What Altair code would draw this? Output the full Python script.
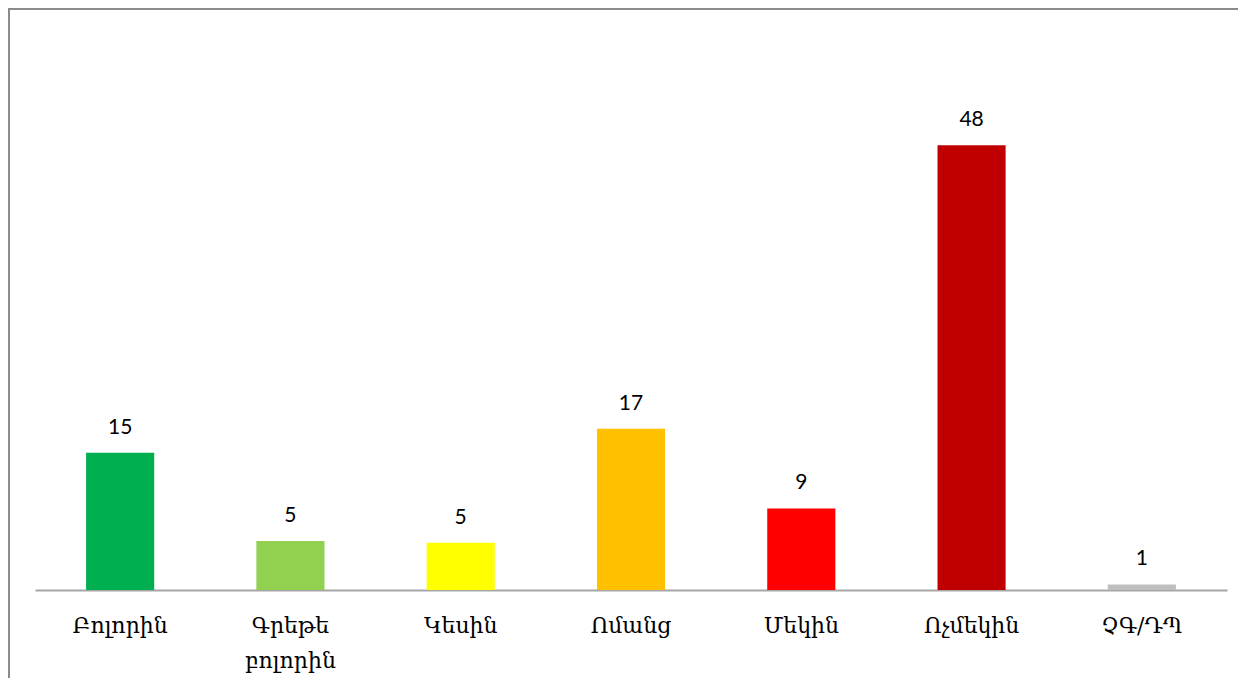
import altair as alt
import pandas as pd

categories = ["Բոլորին", "Գրեթե բոլորին", "Կեսին", "Ոմանց", "Մեկին", "Ոչմեկին", "ՉԳ/ԴՊ"]
values = [14.8, 5.3, 5.1, 17.4, 8.8, 48.0, 0.6]
colors = ["#00B050", "#92D050", "#FFFF00", "#FFC000", "#FF0000", "#C00000", "#BFBFBF"]

df = pd.DataFrame({"cat": categories, "val": values})

PAD_L, PAD_T, PAD_R, PAD_B = 27, 26, 11, 88
W, H = 1192, 556

x_enc = alt.X("cat:N", sort=categories,
              scale=alt.Scale(paddingInner=0.6, paddingOuter=0.3),
              axis=alt.Axis(title=None, labelAngle=0, ticks=False, domainColor="#A6A6A6",
                            domainWidth=2, labelFont="DejaVu Serif", labelFontSize=22,
                            labelColor="#000000", labelPadding=25, labelLineHeight=35,
                            labelExpr="split(datum.value, ' ')"))
y_enc = alt.Y("val:Q", scale=alt.Scale(domain=[0, 60]), axis=None)

bars = alt.Chart(df).mark_bar().encode(
    x=x_enc, y=y_enc,
    color=alt.Color("cat:N", scale=alt.Scale(domain=categories, range=colors), legend=None),
)
text = alt.Chart(df).mark_text(baseline="bottom", dy=-15, font="Lato", fontSize=21, color="#000000").encode(
    x=alt.X("cat:N", sort=categories), y=y_enc, text=alt.Text("val:Q", format=".0f")
)

one = pd.DataFrame({"a": [0]})
top_line = alt.Chart(one).mark_rule(color="#8C8C8C", strokeWidth=2).encode(
    x=alt.value(-PAD_L), x2=alt.value(W + PAD_R), y=alt.value(-PAD_T + 1)
)
left_line = alt.Chart(one).mark_rule(color="#8C8C8C", strokeWidth=2).encode(
    x=alt.value(-PAD_L + 1), y=alt.value(-PAD_T), y2=alt.value(H + PAD_B)
)

chart = alt.layer(bars, text, top_line, left_line).properties(
    width=W, height=H,
    autosize=alt.AutoSizeParams(type="none"),
    padding={"left": PAD_L, "top": PAD_T, "right": PAD_R, "bottom": PAD_B},
    background="white",
).configure_view(stroke=None)

chart.save("out.html", embed_options={"renderer": "svg", "actions": False})
